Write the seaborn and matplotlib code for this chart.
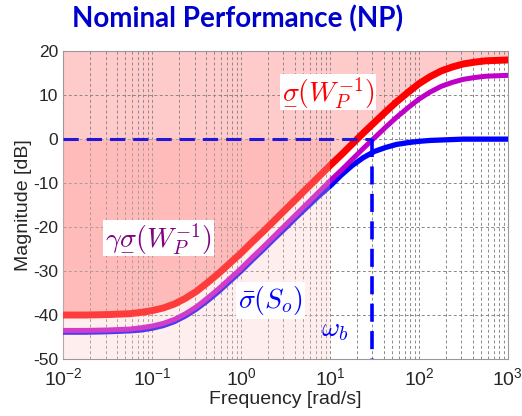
import matplotlib
matplotlib.use('Agg')
import matplotlib.pyplot as plt
import seaborn as sns
import pandas as pd

# frequencies [rad/s] and magnitudes [dB]
freq = [0.01, 0.0178, 0.0316, 0.0562, 0.075, 0.1, 0.1334, 0.1778, 0.2371, 0.3162,
        0.4217, 0.5623, 0.7499, 1, 1.334, 1.778, 2.371, 3.162, 4.217, 5.623,
        7.499, 10, 13.34, 17.78, 23.71, 31.62, 42.17, 56.23, 74.99, 100,
        133.4, 177.8, 237.1, 316.2, 421.7, 562.3, 749.9, 1000]
wp_inv = [-40.0, -40.0, -39.9, -39.7, -39.4, -39.0, -38.4, -37.5, -36.2, -34.6,
          -32.6, -30.5, -28.2, -25.9, -23.4, -21.0, -18.5, -16.0, -13.5, -11.0,
          -8.5, -6.0, -3.6, -1.1, 1.4, 3.8, 6.2, 8.5, 10.6, 12.6,
          14.2, 15.5, 16.4, 17.1, 17.5, 17.8, 17.9, 18.0]
gamma_wp_inv = [-43.5, -43.5, -43.4, -43.2, -42.9, -42.5, -41.9, -41.0, -39.7, -38.1,
                -36.1, -34.0, -31.7, -29.4, -26.9, -24.5, -22.0, -19.5, -17.0, -14.5,
                -12.0, -9.5, -7.1, -4.6, -2.1, 0.3, 2.7, 5.0, 7.1, 9.1,
                10.7, 12.0, 12.9, 13.6, 14.0, 14.3, 14.4, 14.5]
sens = [-43.9, -43.9, -43.8, -43.6, -43.4, -43.0, -42.4, -41.5, -40.2, -38.6,
        -36.7, -34.6, -32.3, -30.0, -27.5, -25.1, -22.6, -20.2, -17.7, -15.3,
        -12.9, -10.7, -8.2, -6.0, -4.2, -2.8, -1.9, -1.2, -0.8, -0.5,
        -0.3, -0.2, -0.1, 0.0, 0.0, 0.0, 0.0, 0.0]
wb = 30

df = pd.DataFrame({'freq': freq, 'wp_inv': wp_inv, 'gamma_wp_inv': gamma_wp_inv, 'sens': sens})

sns.set_theme(style='white')
plt.rcParams['font.family'] = ['Liberation Sans', 'DejaVu Sans']
plt.rcParams['mathtext.fontset'] = 'cm'
plt.rcParams['axes.unicode_minus'] = False

fig = plt.figure(figsize=(5.22, 4.16), dpi=100)
ax = fig.add_axes([0.121, 0.137, 0.852, 0.740])
ax.set_axisbelow('line')

# shaded regions
ax.fill_between(df['freq'], df['wp_inv'], 20, color='#ffcaca', lw=0, zorder=1)
low = df[df['freq'] <= 10]
ax.fill_between(low['freq'], low['wp_inv'], 0, color='#ffb4b4', lw=0, zorder=1.1)

# curves
sns.lineplot(data=df, x='freq', y='sens', color='#0000ff', lw=3.8, ax=ax, zorder=3)
sns.lineplot(data=df, x='freq', y='gamma_wp_inv', color='#c000c8', lw=3.6, ax=ax, zorder=3.5)
sns.lineplot(data=df, x='freq', y='wp_inv', color='#ff0000', lw=5, ax=ax, zorder=4)

# overlay that lightens the low-frequency part
ax.fill_between([0.01, 10], -50, 0, color='#ffc8c8', alpha=0.3, lw=0, zorder=5)

ax.plot([0.01, wb], [0, 0], color='#2418d8', lw=2.2, ls=(0, (5, 2.6)), zorder=6)
ax.plot([wb, wb], [0, -50], color='#0000ff', lw=2.6, ls=(0, (5, 2.6)), zorder=6)

ax.set_xscale('log')
ax.set_xlim(0.01, 1000)
ax.set_ylim(-50, 20)
ax.set_yticks(range(-50, 21, 10))
ax.grid(True, which='both', axis='x', color='#8a8a8a', ls=(0, (3, 2.5)), lw=0.7)
ax.grid(True, which='major', axis='y', color='#8a8a8a', ls=(0, (3, 2.5)), lw=0.7)
ax.tick_params(axis='both', which='both', direction='in', colors='#262626', length=3)
ax.tick_params(axis='y', which='major', labelsize=12.5)
ax.tick_params(axis='x', which='major', pad=6, labelsize=14)
ax.tick_params(axis='both', which='minor', length=1.5)
for s in ax.spines.values():
    s.set_color('#999999')
    s.set_linewidth(0.8)
ax.set_xlabel('Frequency [rad/s]', fontsize=14, color='#262626', labelpad=1)
ax.set_ylabel('Magnitude [dB]', fontsize=14, color='#262626', labelpad=1)

box = dict(facecolor='white', edgecolor='none', pad=1.5)
ax.text(9.5, 10.7, r'$\underset{-}{\sigma}(W_P^{-1})$', color='#ff0000', fontsize=20,
        ha='center', va='center', bbox=box, zorder=7)
ax.text(0.118, -22.5, r'$\gamma\underset{-}{\sigma}(W_P^{-1})$', color='#800080', fontsize=20,
        ha='center', va='center', bbox=box, zorder=7)
ax.text(2.12, -36.6, r'$\bar{\sigma}(S_o)$', color='#0000ff', fontsize=20,
        ha='center', va='center', bbox=box, zorder=7)
ax.text(11.4, -43.4, r'$\omega_b$', color='#0000ff', fontsize=20,
        ha='center', va='center', zorder=7)

fig.text(0.138, 0.955, 'Nominal Performance (NP)', color='#0000cc', fontsize=20,
         fontweight='bold', family=['Lato', 'DejaVu Sans'], ha='left', va='center')

fig.savefig('out.png', dpi=100)
